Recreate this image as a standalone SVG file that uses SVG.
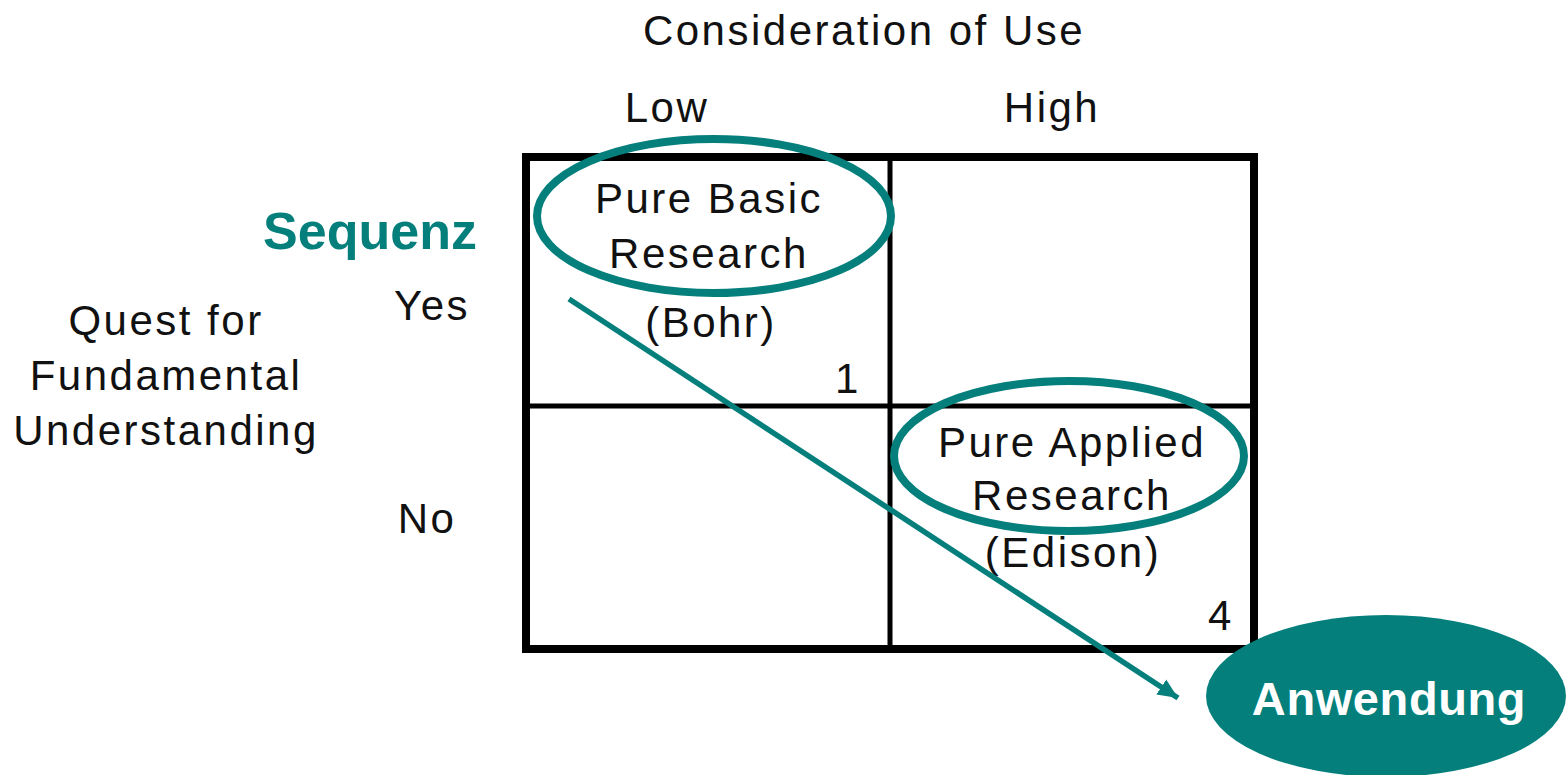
<svg xmlns="http://www.w3.org/2000/svg" width="1568" height="775" viewBox="0 0 1568 775">
<defs>
<style>
.t{font-family:"Liberation Sans",Arial,sans-serif;font-size:42px;letter-spacing:2.5px;fill:#111;text-anchor:middle}
.g{fill:none;stroke:#000}
.oval{fill:none;stroke:#047f7c;stroke-width:8}
.lbl{font-family:"Liberation Sans",Arial,sans-serif;font-weight:bold;text-anchor:middle}
</style>
<marker id="ah" markerUnits="userSpaceOnUse" markerWidth="24" markerHeight="20" viewBox="0 0 24 20" refX="20" refY="10" orient="auto">
<path d="M0,1 L20,10 L0,19 Z" fill="#047f7c"/>
</marker>
</defs>
<rect width="1568" height="775" fill="#fff"/>
<g id="axis-labels">
<text class="t" x="864" y="45">Consideration of Use</text>
<text class="t" x="667" y="122">Low</text>
<text class="t" x="1052" y="122">High</text>
<text class="t" x="432" y="320">Yes</text>
<text class="t" x="427" y="533">No</text>
<text class="t" x="166" y="335">Quest for</text>
<text class="t" x="166" y="390">Fundamental</text>
<text class="t" x="166" y="445">Understanding</text>
</g>
<g id="grid">
<rect class="g" x="526" y="157" width="728" height="492" stroke-width="8"/>
<line class="g" x1="890" y1="157" x2="890" y2="649" stroke-width="5"/>
<line class="g" x1="526" y1="406" x2="1254" y2="406" stroke-width="5"/>
</g>
<g id="cell-1">
<text class="t" x="709" y="213">Pure Basic</text>
<text class="t" x="709" y="268">Research</text>
<text class="t" x="711" y="337">(Bohr)</text>
<text class="t" x="848" y="393">1</text>
</g>
<g id="cell-4">
<text class="t" x="1072" y="457">Pure Applied</text>
<text class="t" x="1072" y="510">Research</text>
<text class="t" x="1073" y="567">(Edison)</text>
<text class="t" x="1221" y="630">4</text>
</g>
<g id="oval-basic"><ellipse class="oval" cx="714" cy="216" rx="177" ry="77"/></g>
<g id="oval-applied"><ellipse class="oval" cx="1069" cy="456" rx="175" ry="75"/></g>
<g id="sequenz"><text class="lbl" x="370" y="249" font-size="52" fill="#047f7c">Sequenz</text></g>
<g id="connectors">
<line x1="569" y1="299" x2="1178" y2="698" stroke="#047f7c" stroke-width="5.5" marker-end="url(#ah)"/>
</g>
<g id="anwendung">
<ellipse cx="1386" cy="696" rx="180" ry="81" fill="#047f7c"/>
<text class="lbl" x="1389" y="715" font-size="47" letter-spacing="0.6" fill="#fff">Anwendung</text>
</g>
</svg>
